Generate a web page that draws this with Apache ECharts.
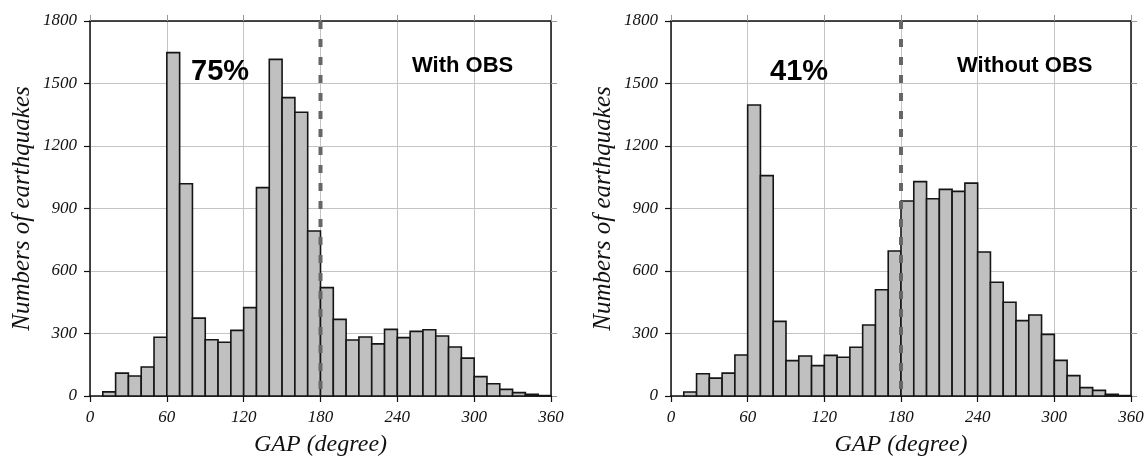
<!DOCTYPE html>
<html>
<head>
<meta charset="utf-8">
<script src="https://cdn.jsdelivr.net/npm/echarts@6/dist/echarts.min.js"></script>
<style>
html,body{margin:0;padding:0;background:#fff;}
#chart{width:1145px;height:456px;}
</style>
</head>
<body>
<div id="chart"></div>
<script>
// Bin edges (degrees)
const binStart = [0,10,20,30,40,50,60,70,80,90,100,110,120,130,140,150,160,170,180,190,200,210,220,230,240,250,260,270,280,290,300,310,320,330,340,350];
const binEnd   = [10,20,30,40,50,60,70,80,90,100,110,120,130,140,150,160,170,180,190,200,210,220,230,240,250,260,270,280,290,300,310,320,330,340,350,360];
// Counts per bin
const withOBS = [0,20,110,96,139,282,1648,1019,374,270,258,315,424,1000,1616,1432,1362,792,520,368,269,283,250,320,280,310,318,288,235,182,93,59,32,16,8,2];
const withoutOBS = [0,19,107,86,110,197,1397,1058,358,170,192,146,195,186,234,341,510,696,936,1029,947,992,982,1022,691,546,450,362,389,296,171,98,40,27,8,2];
const xTicks = [0,60,120,180,240,300,360];
const yTicks = [0,300,600,900,1200,1500,1800];
const gapThreshold = 180;
const panelLabels = ['With OBS','Without OBS'];
const percentLabels = ['75%','41%'];
const axisNames = {x:'GAP (degree)', y:'Numbers of earthquakes'};

const chart = echarts.init(document.getElementById('chart'));
const serif = 'Liberation Serif';
const sans = 'Liberation Sans';

function makeData(vals){ return vals.map((v,i)=>[binStart[i], binEnd[i], v]); }

const grids = [
  {left:90, right:594, top:21, bottom:60, containLabel:false, outerBoundsMode:'none'},
  {left:671, right:14, top:21, bottom:60, containLabel:false, outerBoundsMode:'none'}
];

const xAxes = [], yAxes = [], series = [];
[0,1].forEach(g=>{
  xAxes.push({
    gridIndex:g, type:'value', min:xTicks[0], max:xTicks[xTicks.length-1], interval:60, position:'bottom',
    name:axisNames.x, nameLocation:'middle', nameGap:37,
    nameTextStyle:{fontFamily:serif, fontStyle:'italic', fontSize:24, color:'#111'},
    axisLine:{show:true, onZero:false, lineStyle:{color:'#111', width:1.5}},
    axisTick:{show:true, inside:false, length:6, lineStyle:{color:'#111', width:1.2}},
    axisLabel:{fontFamily:serif, fontStyle:'italic', fontSize:17, color:'#111', margin:13,
      formatter:v=>String(v)},
    splitLine:{show:true, lineStyle:{color:'#c4c4c4', width:1}}
  });
  xAxes.push({
    gridIndex:g, type:'value', min:xTicks[0], max:xTicks[xTicks.length-1], interval:60, position:'top',
    axisLine:{show:true, onZero:false, lineStyle:{color:'#111', width:1.5}},
    axisTick:{show:true, inside:false, length:6, lineStyle:{color:'#999', width:1}},
    axisLabel:{show:false}, splitLine:{show:false}
  });
  yAxes.push({
    gridIndex:g, type:'value', min:yTicks[0], max:yTicks[yTicks.length-1], interval:300, position:'left',
    name:axisNames.y, nameLocation:'middle', nameGap:55,
    nameTextStyle:{fontFamily:serif, fontStyle:'italic', fontSize:25, color:'#111'},
    axisLine:{show:true, onZero:false, lineStyle:{color:'#111', width:1.5}},
    axisTick:{show:true, inside:false, length:6, lineStyle:{color:'#111', width:1.2}},
    axisLabel:{fontFamily:serif, fontStyle:'italic', fontSize:17, color:'#111', margin:13,
      formatter:v=>String(v)},
    splitLine:{show:true, lineStyle:{color:'#c4c4c4', width:1}}
  });
  yAxes.push({
    gridIndex:g, type:'value', min:yTicks[0], max:yTicks[yTicks.length-1], interval:300, position:'right',
    axisLine:{show:true, onZero:false, lineStyle:{color:'#111', width:1.5}},
    axisTick:{show:true, inside:false, length:6, lineStyle:{color:'#999', width:1}},
    axisLabel:{show:false}, splitLine:{show:false}
  });
});

[withOBS, withoutOBS].forEach((vals,g)=>{
  series.push({
    type:'custom', xAxisIndex:g*2, yAxisIndex:g*2, z:3,
    data:makeData(vals),
    renderItem:function(params, api){
      const v = api.value(2);
      if (v <= 0) return null;
      const p0 = api.coord([api.value(0), 0]);
      const p1 = api.coord([api.value(1), v]);
      return {type:'rect', shape:{x:p0[0], y:p1[1], width:p1[0]-p0[0], height:p0[1]-p1[1]},
        style:{fill:'#c0c0c0', stroke:'#151515', lineWidth:1.6}};
    }
  });
  series.push({
    type:'line', xAxisIndex:g*2, yAxisIndex:g*2, z:5, symbol:'none', silent:true,
    data:[[gapThreshold, yTicks[yTicks.length-1]],[gapThreshold, yTicks[0]]],
    lineStyle:{color:'#666666', width:4, type:[8,10], cap:'butt'}
  });
});

const titles = [
  {text:percentLabels[0], left:191, top:57, textStyle:{fontFamily:sans, fontWeight:'bold', fontSize:29, color:'#000'}},
  {text:panelLabels[0], left:412, top:55, textStyle:{fontFamily:sans, fontWeight:'bold', fontSize:22, color:'#000'}},
  {text:percentLabels[1], left:770, top:57, textStyle:{fontFamily:sans, fontWeight:'bold', fontSize:29, color:'#000'}},
  {text:panelLabels[1], left:957, top:55, textStyle:{fontFamily:sans, fontWeight:'bold', fontSize:22, color:'#000'}}
].map(t=>Object.assign({padding:0}, t));

chart.setOption({
  animation:false,
  backgroundColor:'#fff',
  title:titles,
  grid:grids,
  xAxis:xAxes,
  yAxis:yAxes,
  series:series
});
</script>
</body>
</html>
